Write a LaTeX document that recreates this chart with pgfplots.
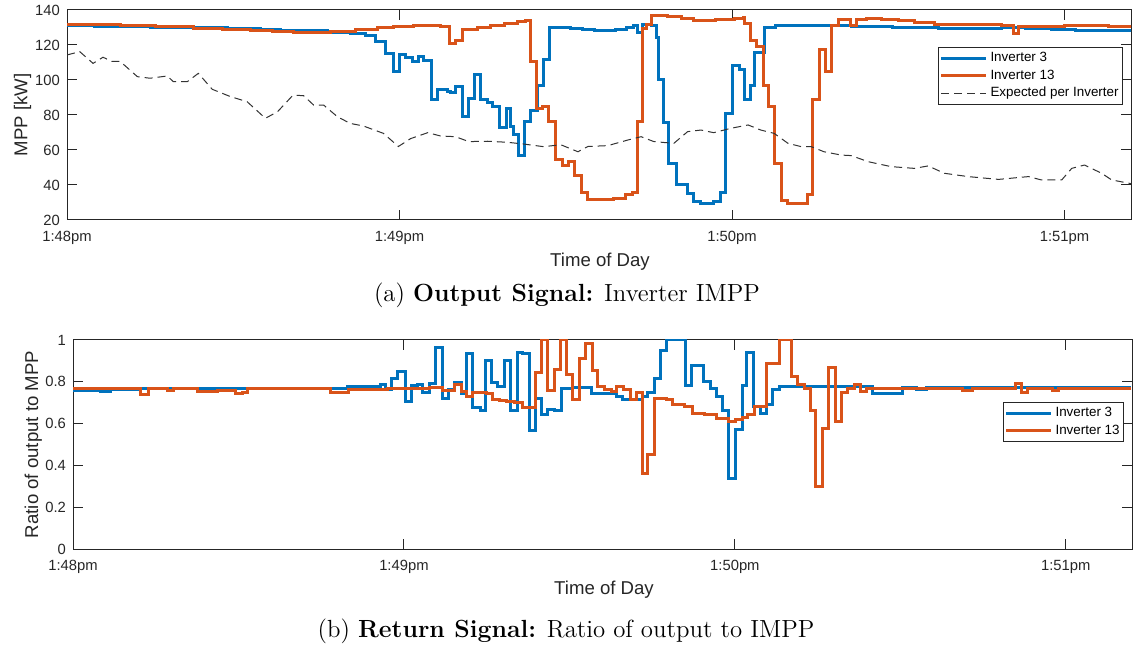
\documentclass[border=0pt]{standalone}
\usepackage{fontspec}
\newfontfamily\arial{Liberation Sans}
\usepackage{pgfplots}
\pgfplotsset{compat=1.18}
\definecolor{mblue}{rgb}{0,0.447,0.741}
\definecolor{morange}{rgb}{0.85,0.325,0.098}
\definecolor{axgray}{rgb}{0.15,0.15,0.15}
\newcommand{\tickfont}{\arial\fontsize{7.4}{8}\selectfont}
\newcommand{\labfont}{\arial\fontsize{9.3}{10}\selectfont}
\pgfplotsset{
  mstyle/.style={
    scale only axis,
    anchor=south west,
    xmin=0, xmax=192,
    xtick={0,60,120,180},
    xticklabels={1:48pm,1:49pm,1:50pm,1:51pm},
    tick pos=both, tick align=inside,
    major tick length=5pt,
    axis line style={axgray, line width=0.5pt},
    every tick/.style={axgray, line width=0.5pt},
    tick label style={font=\tickfont, text=axgray},
    xticklabel style={anchor=base, yshift=-10.8pt},
    legend cell align=left,
    legend style={font=\arial\fontsize{6.7}{8}\selectfont, draw=axgray, line width=0.4pt,
      text=black, anchor=north east, at={(axis description cs:1,1)},
      inner xsep=0.5pt, inner ysep=1pt,
      nodes={inner xsep=1.5pt, inner ysep=1.2pt, text height=5pt, text depth=1.4pt}},
    legend image code/.code={\draw[#1] (0pt,0pt) -- (22.5pt,0pt);},
  },
  inv/.style={const plot, line width=1.5pt},
}
\begin{document}
\begin{tikzpicture}
\path[use as bounding box] (0,0) rectangle (566.5pt,324pt);
% ---------- top axis ----------
\begin{axis}[mstyle, at={(33.5pt,214pt)}, width=532pt, height=105pt,
  ymin=20, ymax=140, ytick={20,40,60,80,100,120,140},
  yticklabels={20,40,60,80,100,120,140},
  legend style={xshift=-4pt, yshift=-18.5pt}]
\addplot[inv, mblue] coordinates {
(0,130.9) (5,130.7) (9.6,130.5) (15,130.2) (20,130.0) (24,129.8) (29,129.3) (34.9,128.8) (38.5,128.5) (42.1,128.2) (47,127.3) (51.1,126.3) (53.9,125.2) (55.7,121.9) (57.5,114.9) (58.9,104.8) (60.0,114.3) (61.1,113) (62.3,110.5) (63.4,113.3) (64.3,111) (65.8,89) (66.9,94.3) (68.7,93.5) (69.2,92.7) (70.1,96) (71.4,79) (72.5,89.5) (73.6,102.9) (74.6,89) (75.9,86.9) (76.8,85.1) (78.1,72.8) (79.3,83.8) (80.0,73.3) (80.6,68.6) (81.5,57.1) (82.6,76.2) (83.7,82.3) (84.9,97.1) (86.0,111.8) (87.1,130.1) (90.9,129.5) (93,128.8) (95.1,128.2) (97,128.5) (99.0,129.0) (101,130.2) (102.3,131.4) (103.0,127.2) (103.9,131.8) (105.4,131) (106.3,124.4) (106.7,100) (107.7,75.8) (108.6,52.4) (109.9,40) (112.0,35.2) (113.1,30.5) (114.4,29.5) (116.7,30.5) (118.0,35.6) (118.9,81) (120.0,108) (121.3,106) (122.2,88.6) (123.4,97.1) (124.0,115.6) (125.8,130.1) (127.9,131.2) (134,130.9) (141.5,130.5) (149,130.0) (157.2,129.5) (163,129.7) (168.6,129.8) (173,129.4) (177.6,129) (182,128.5) (186.7,128) (192.3,127.6)
};
\addlegendentry{Inverter 3}
\addplot[inv, morange] coordinates {
(0,131.8) (5,131.5) (9.6,131.2) (16,130.3) (22.8,129.3) (28,128.6) (33.1,128) (37,127.5) (40.8,127) (44,127.3) (47.5,127.8) (52,129) (56.0,130.1) (59,130.6) (62.5,131.1) (67.4,130.3) (69.0,121) (70.1,122.5) (71.4,129) (74,130.2) (76.4,131) (79,132.2) (81.3,133.3) (82.8,133.9) (83.7,110.5) (84.8,83.8) (85.8,85.1) (86.9,76.2) (88.2,54.6) (89.5,50.9) (90.5,53.7) (91.6,45.7) (92.9,35.6) (94.0,31.8) (96.3,31.5) (98.7,32) (100.8,34.7) (102.1,35.6) (103.0,76.2) (103.9,129.5) (104.6,131.5) (105.4,136.8) (108.4,136.5) (110.8,135.2) (113.1,133.9) (117,134.6) (120.4,135.2) (122.0,135.8) (122.3,132) (123.4,122.5) (124.5,119.4) (125.6,96.6) (126.5,84.8) (127.6,52.4) (129.0,31.4) (130.1,29.3) (133.0,29.3) (133.6,34.3) (134.5,88.6) (135.7,117.5) (136.8,104.8) (137.9,130.9) (139.2,134.7) (141.3,130.9) (142.4,134.7) (144.2,135.2) (147,134.7) (150,134) (153,133.1) (156.5,131.8) (160,131.5) (168.6,131.4) (170.8,126.3) (171.7,130.6) (176.4,130.3) (180.0,131.4) (184,131.0) (188,130.5) (192.3,130.1)
};
\addlegendentry{Inverter 13}
\addplot[black!80, line width=0.5pt, dash pattern=on 4pt off 2.5pt] coordinates {
(0,114.3) (2.3,116.2) (4.7,109.5) (6.5,113) (8.1,110.6) (9.6,110.6) (12.7,101.9) (15.0,101) (18.1,102.3) (19.2,99) (21.7,99) (23.7,103.8) (26.2,94.7) (29.5,90.5) (32.5,87.6) (35.8,78.1) (38.0,81.9) (40.8,91.4) (42.7,91) (44.5,85.7) (46.3,85.7) (48.8,79) (51.1,75.2) (53.5,73.7) (57.1,69.5) (59.8,62) (62.0,66.5) (65.1,69.9) (67.4,68) (70.1,67.6) (72.5,64.8) (75.9,65) (79.5,64.4) (82.4,63.4) (86.0,61.9) (89.1,63) (92.2,59) (94.0,62) (97.6,62.5) (101.2,65.7) (103.6,67.6) (105.9,64.8) (109.5,63.8) (112.0,70.5) (114.4,71.4) (116.7,69.9) (119.8,72.4) (122.9,74.3) (125.2,71.4) (127.6,69.5) (130.1,63.8) (132.5,61.9) (134.3,61.9) (136.6,59) (139.7,57.1) (141.5,56.8) (144.6,53.3) (148.7,50.5) (152.9,49.5) (155.4,50.9) (158.3,46.7) (162.6,44.8) (168.1,43.2) (173.5,44.8) (175.8,42.9) (179.5,42.9) (181.3,49.5) (183.6,51.4) (186.7,46.7) (188.5,42.9) (192.3,40.6)
};
\addlegendentry{Expected per Inverter}
\end{axis}
% ---------- bottom axis ----------
\begin{axis}[mstyle, at={(36.5pt,49.5pt)}, width=529.5pt, height=104.5pt,
  ymin=0, ymax=1, ytick={0,0.2,0.4,0.6,0.8,1},
  yticklabels={0,0.2,0.4,0.6,0.8,1},
  legend style={xshift=-4pt, yshift=-31pt}]
\addplot[inv, mblue] coordinates {
(0,0.760) (5.0,0.752) (6.8,0.762) (12.2,0.768) (49.7,0.777) (55.7,0.785) (56.7,0.761) (57.8,0.817) (58.9,0.849) (60.2,0.705) (61.3,0.780) (62.4,0.788) (63.4,0.748) (64.7,0.793) (65.8,0.965) (66.9,0.721) (68.0,0.761) (69.1,0.796) (70.5,0.745) (71.4,0.936) (72.5,0.678) (73.8,0.665) (74.8,0.904) (75.9,0.796) (77.0,0.777) (78.3,0.904) (79.4,0.665) (80.5,0.941) (81.5,0.936) (82.8,0.569) (83.9,0.721) (85.0,0.644) (86.1,0.668) (87.3,0.665) (88.6,0.769) (90.6,0.772) (94.0,0.745) (96.7,0.742) (98.5,0.729) (99.6,0.716) (102.2,0.713) (103.3,0.732) (104.2,0.748) (105.4,0.817) (106.5,0.952) (107.6,1.0) (111.0,0.780) (112.1,0.877) (114.3,0.801) (115.6,0.769) (116.7,0.732) (117.7,0.665) (118.8,0.338) (120.1,0.573) (121.4,0.780) (122.1,0.941) (123.4,0.684) (124.6,0.649) (125.7,0.689) (126.8,0.764) (128.1,0.778) (144.9,0.745) (150.3,0.772) (152.9,0.761) (154.7,0.772) (191.8,0.772)
};
\addlegendentry{Inverter 3}
\addplot[inv, morange] coordinates {
(0,0.770) (12.2,0.737) (13.7,0.770) (17.1,0.757) (18.2,0.770) (22.5,0.753) (26.2,0.757) (29.4,0.742) (30.7,0.748) (31.6,0.770) (46.6,0.748) (49.9,0.761) (57.0,0.770) (64.7,0.771) (66.9,0.756) (68.0,0.757) (69.2,0.788) (70.5,0.753) (71.4,0.732) (72.5,0.748) (75.0,0.742) (76.1,0.716) (77.4,0.710) (78.6,0.705) (80.1,0.700) (81.5,0.678) (83.9,0.845) (85.0,1.0) (86.1,0.756) (87.3,0.861) (88.4,1.0) (89.5,0.837) (90.6,0.716) (91.9,0.912) (92.9,0.984) (94.2,0.856) (95.1,0.777) (96.4,0.764) (97.6,0.753) (98.5,0.777) (99.8,0.761) (101.1,0.713) (102.2,0.748) (103.3,0.362) (104.2,0.450) (105.4,0.721) (107.6,0.713) (108.7,0.692) (110.9,0.681) (112.3,0.649) (114.5,0.644) (116.7,0.625) (118.8,0.612) (120.1,0.620) (121.4,0.628) (122.3,0.644) (123.5,0.684) (125.7,0.888) (128.1,1.0) (130.2,0.825) (131.3,0.785) (132.6,0.769) (133.7,0.662) (134.7,0.298) (135.8,0.577) (136.9,0.868) (138.2,0.609) (139.4,0.748) (140.5,0.769) (141.6,0.789) (142.7,0.753) (143.8,0.770) (161.2,0.757) (163.0,0.770) (170.9,0.793) (172.0,0.748) (173.1,0.770) (177.5,0.760) (178.7,0.770) (191.8,0.770)
};
\addlegendentry{Inverter 13}
\end{axis}
% ---------- labels and captions ----------
\node[rotate=90, anchor=base, font=\labfont, text=axgray] at (13.7pt,266.5pt) {MPP [kW]};
\node[anchor=base, font=\labfont, text=axgray] at (300pt,190.6pt) {Time of Day};
\node[rotate=90, anchor=base, font=\labfont, text=axgray] at (19pt,101.75pt) {Ratio of output to MPP};
\node[anchor=base, font=\labfont, text=axgray] at (302pt,27pt) {Time of Day};
\node[anchor=base, font=\fontsize{12.4}{14}\selectfont, inner sep=0pt] at (283.5pt,173.2pt) {(a) \textbf{Output Signal:} Inverter IMPP};
\node[anchor=base, font=\fontsize{12.4}{14}\selectfont, inner sep=0pt] at (283pt,5.5pt) {(b) \textbf{Return Signal:} Ratio of output to IMPP};
\end{tikzpicture}
\end{document}
